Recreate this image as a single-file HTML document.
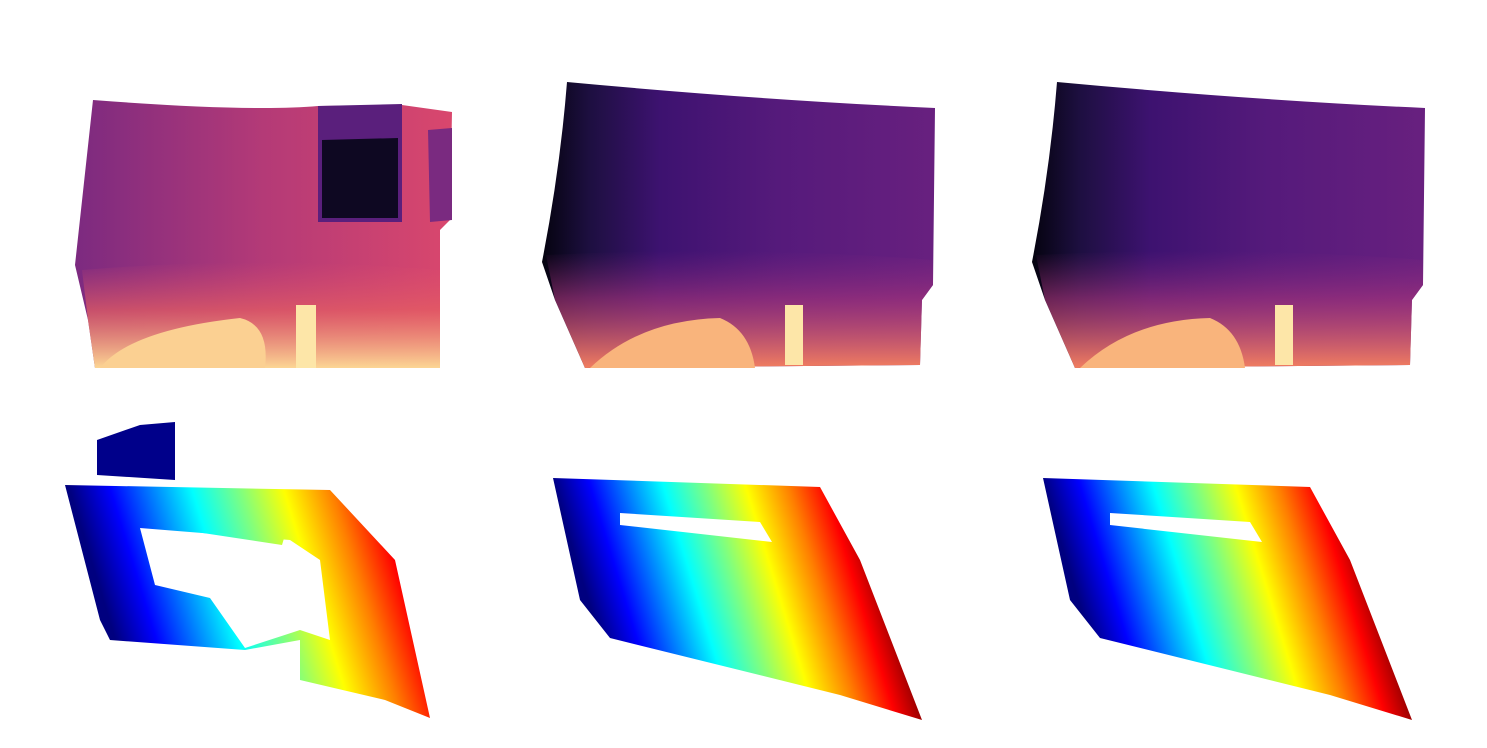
<!DOCTYPE html>
<html><head><meta charset="utf-8"><style>
html,body{margin:0;padding:0;background:#fff;}
svg{display:block;}
</style></head><body>
<svg width="1487" height="748" viewBox="0 0 1487 748" xmlns="http://www.w3.org/2000/svg">
<defs>
  <linearGradient id="magL" x1="0" y1="0" x2="1" y2="0">
    <stop offset="0" stop-color="#7c2a80"/><stop offset="0.5" stop-color="#b43a77"/><stop offset="1" stop-color="#d9476d"/>
  </linearGradient>
  <linearGradient id="magD" x1="0" y1="0" x2="1" y2="0">
    <stop offset="0" stop-color="#05030f"/><stop offset="0.12" stop-color="#1d0f40"/><stop offset="0.3" stop-color="#3d1270"/><stop offset="0.6" stop-color="#551a7b"/><stop offset="1" stop-color="#68207f"/>
  </linearGradient>
  <linearGradient id="botWarm" x1="0" y1="0" x2="0" y2="1">
    <stop offset="0" stop-color="#e0536a" stop-opacity="0"/><stop offset="0.45" stop-color="#e65f62" stop-opacity="0.7"/><stop offset="1" stop-color="#fcd694"/>
  </linearGradient>
  <linearGradient id="botWarmD" x1="0" y1="0" x2="0" y2="1">
    <stop offset="0" stop-color="#8e2b7e" stop-opacity="0"/><stop offset="0.4" stop-color="#a8357a" stop-opacity="0.6"/><stop offset="1" stop-color="#f27e60"/>
  </linearGradient>
  <linearGradient id="jetL" gradientUnits="userSpaceOnUse" x1="-80" y1="0" x2="260" y2="0" gradientTransform="skewX(17)">
    <stop offset="0" stop-color="#00007f"/><stop offset="0.12" stop-color="#0000ff"/><stop offset="0.36" stop-color="#00ffff"/><stop offset="0.5" stop-color="#7fff7f"/><stop offset="0.63" stop-color="#ffff00"/><stop offset="0.77" stop-color="#ff7f00"/><stop offset="0.89" stop-color="#ff0000"/><stop offset="1" stop-color="#7f0000"/>
  </linearGradient>
  <linearGradient id="jetM" gradientUnits="userSpaceOnUse" x1="405" y1="0" x2="710" y2="0" gradientTransform="skewX(17)">
    <stop offset="0" stop-color="#00007f"/><stop offset="0.12" stop-color="#0000ff"/><stop offset="0.36" stop-color="#00ffff"/><stop offset="0.5" stop-color="#7fff7f"/><stop offset="0.63" stop-color="#ffff00"/><stop offset="0.77" stop-color="#ff7f00"/><stop offset="0.89" stop-color="#ff0000"/><stop offset="1" stop-color="#7f0000"/>
  </linearGradient>
  <linearGradient id="jetR" gradientUnits="userSpaceOnUse" x1="895" y1="0" x2="1200" y2="0" gradientTransform="skewX(17)">
    <stop offset="0" stop-color="#00007f"/><stop offset="0.12" stop-color="#0000ff"/><stop offset="0.36" stop-color="#00ffff"/><stop offset="0.5" stop-color="#7fff7f"/><stop offset="0.63" stop-color="#ffff00"/><stop offset="0.77" stop-color="#ff7f00"/><stop offset="0.89" stop-color="#ff0000"/><stop offset="1" stop-color="#7f0000"/>
  </linearGradient>
</defs>

<g>
  <path d="M93,100 Q250,112 318,106 L402,105 L452,112 L450,220 L440,230 L440,368 L95,368 L88,320 L75,265 Z" fill="url(#magL)"/>
  <path d="M82,270 Q260,255 440,270 L440,368 L95,368 L88,320 Z" fill="url(#botWarm)"/>
  <path d="M100,368 Q130,330 240,318 Q270,325 265,368 Z" fill="#fbd092"/>
  <rect x="296" y="305" width="20" height="63" fill="#fde6a8"/>
  <path d="M318,106 L402,104 L402,222 L318,222 Z" fill="#5a1f7c"/>
  <path d="M322,140 L398,138 L398,218 L322,218 Z" fill="#0e0822"/>
  <path d="M428,130 L452,128 L452,220 L430,222 Z" fill="#7a2a80"/>
</g>

<g>
  <path d="M567,82 Q760,100 935,108 L933,285 L922,300 L920,365 L585,368 L555,300 L542,262 Q560,170 567,82 Z" fill="url(#magD)"/>
  <path d="M546,255 Q740,245 933,260 L933,285 L922,300 L920,365 L585,368 L555,300 Z" fill="url(#botWarmD)"/>
  <path d="M590,368 Q640,320 720,318 Q750,330 755,368 Z" fill="#f9b47c"/>
  <rect x="785" y="305" width="18" height="60" fill="#fde6a8"/>
</g>

<g>
  <path d="M1057,82 Q1250,100 1425,108 L1423,285 L1412,300 L1410,365 L1075,368 L1045,300 L1032,262 Q1050,170 1057,82 Z" fill="url(#magD)"/>
  <path d="M1036,255 Q1230,245 1423,260 L1423,285 L1412,300 L1410,365 L1075,368 L1045,300 Z" fill="url(#botWarmD)"/>
  <path d="M1080,368 Q1130,320 1210,318 Q1240,330 1245,368 Z" fill="#f9b47c"/>
  <rect x="1275" y="305" width="18" height="60" fill="#fde6a8"/>
</g>

<g>
  <path d="M97,440 L140,425 L175,422 L175,480 L97,475 Z" fill="#00008a"/>
  <path d="M65,485 L330,490 L395,560 L430,718 L385,700 L300,680 L300,640 L245,650 L110,640 L100,620 Z" fill="url(#jetL)"/>
  <path d="M140,528 L290,540 L320,560 L330,640 L300,630 L245,648 L210,598 L155,585 Z" fill="#fff"/>
  <path d="M150,512 L285,535 L282,545 L150,525 Z" fill="url(#jetL)"/>
</g>

<g>
  <path d="M553,478 L820,487 L860,560 L922,720 L840,695 L610,638 L580,600 Z" fill="url(#jetM)"/>
  <path d="M620,513 L760,522 L772,542 L620,525 Z" fill="#fff"/>
</g>

<g>
  <path d="M1043,478 L1310,487 L1350,560 L1412,720 L1330,695 L1100,638 L1070,600 Z" fill="url(#jetR)"/>
  <path d="M1110,513 L1250,522 L1262,542 L1110,525 Z" fill="#fff"/>
</g>
</svg>
</body></html>
